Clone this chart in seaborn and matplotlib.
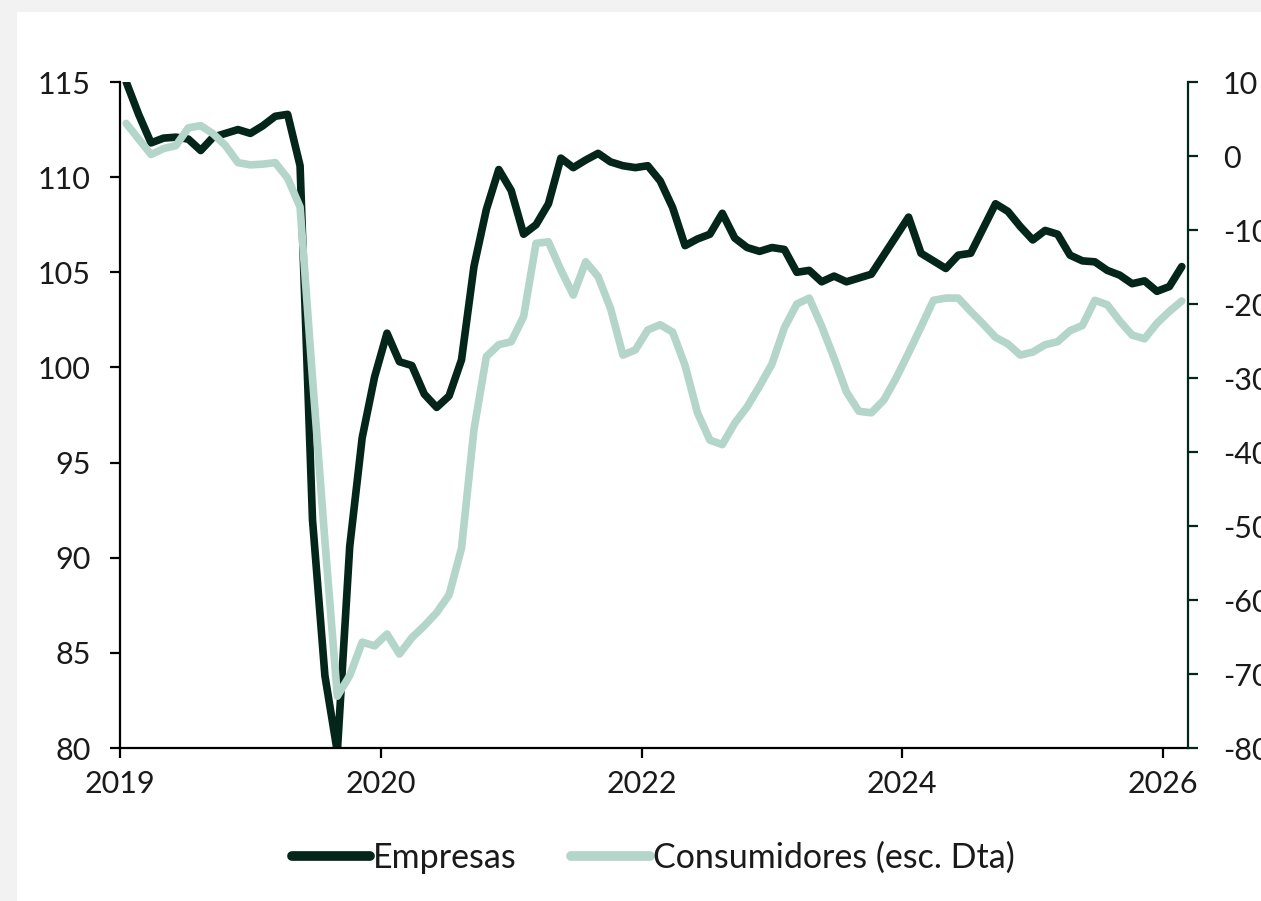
import matplotlib
matplotlib.use("Agg")
import matplotlib.pyplot as plt
import seaborn as sns
import numpy as np
from matplotlib.patches import Rectangle

# Datos mensuales (86 observaciones)
empresas = [115.0, 113.3, 111.8, 112.05, 112.1, 112.0, 111.4, 112.1, 112.3, 112.5,
            112.3, 112.7, 113.2, 113.3, 110.6, 92.0, 83.8, 79.8, 90.6, 96.3,
            99.5, 101.8, 100.3, 100.1, 98.6, 97.9, 98.5, 100.4, 105.3, 108.3,
            110.4, 109.3, 107.0, 107.5, 108.6, 111.0, 110.5, 110.9, 111.25, 110.8,
            110.6, 110.5, 110.6, 109.8, 108.4, 106.4, 106.75, 107.0, 108.1, 106.8,
            106.3, 106.1, 106.3, 106.2, 105.0, 105.1, 104.5, 104.8, 104.5, 104.7,
            104.9, 105.9, 106.9, 107.9, 106.0, 105.6, 105.2, 105.9, 106.0, 107.3,
            108.6, 108.2, 107.4, 106.7, 107.2, 107.0, 105.9, 105.6, 105.55, 105.1,
            104.85, 104.4, 104.55, 104.0, 104.25, 105.3]

consumidores = [4.4, 2.3, 0.2, 1.0, 1.4, 3.8, 4.1, 3.0, 1.4, -0.9,
                -1.2, -1.1, -0.9, -3.0, -6.9, -30.0, -52.0, -73.0, -70.2, -65.7,
                -66.2, -64.6, -67.3, -65.1, -63.5, -61.7, -59.3, -53.0, -37.0, -27.1,
                -25.5, -25.1, -21.7, -11.8, -11.6, -15.4, -18.8, -14.3, -16.3, -20.6,
                -26.9, -26.2, -23.5, -22.8, -23.8, -28.3, -34.7, -38.4, -39.0, -36.1,
                -33.9, -31.1, -28.1, -23.2, -20.0, -19.2, -23.0, -27.3, -31.9, -34.5,
                -34.7, -33.0, -30.0, -26.6, -23.1, -19.5, -19.2, -19.2, -21.0, -22.7,
                -24.5, -25.4, -26.9, -26.5, -25.5, -25.1, -23.6, -22.9, -19.5, -20.1,
                -22.3, -24.2, -24.7, -22.6, -21.0, -19.6]

tick_pos = [0, 21, 42, 63, 84]
tick_labels = ["2019", "2020", "2022", "2024", "2026"]

color_emp = "#04251a"
color_con = "#b4d5c9"

sns.set_theme(style="white")
plt.rcParams["font.family"] = ["Lato", "DejaVu Sans"]
plt.rcParams["axes.unicode_minus"] = False

fig = plt.figure(figsize=(12.61, 9.01), dpi=100)
fig.patch.set_facecolor("#f2f2f2")
fig.patches.append(Rectangle((17 / 1261, 0), 1, 1 - 12 / 901, transform=fig.transFigure,
                             facecolor="white", edgecolor="none", zorder=-10))

ax = fig.add_axes([120 / 1261, 1 - 748 / 901, (1188 - 120) / 1261, (748 - 82) / 901])
ax.set_facecolor("none")
ax2 = ax.twinx()

x = np.arange(len(empresas)) + 0.5

sns.lineplot(x=x, y=empresas, ax=ax, color=color_emp, linewidth=5.5, legend=False)
sns.lineplot(x=x, y=consumidores, ax=ax2, color=color_con, linewidth=5.5, legend=False)
for a in (ax, ax2):
    for ln in a.get_lines():
        ln.set_solid_joinstyle("round")
        ln.set_solid_capstyle("round")

ax.set_xlim(0, 86)
ax.set_ylim(80, 115)
ax2.set_ylim(-80, 10)
ax.set_yticks(np.arange(80, 116, 5))
ax2.set_yticks(np.arange(-80, 11, 10))
ax.set_xticks(tick_pos)
ax.set_xticklabels(tick_labels)
ax.set_xlabel("")
ax.set_ylabel("")
ax2.set_ylabel("")

for s in ["top", "right"]:
    ax.spines[s].set_visible(False)
for s in ["top", "left", "bottom"]:
    ax2.spines[s].set_visible(False)
ax.spines["left"].set_color("black")
ax.spines["bottom"].set_color("black")
ax.spines["left"].set_linewidth(1.6)
ax.spines["bottom"].set_linewidth(1.6)
ax2.spines["right"].set_color(color_emp)
ax2.spines["right"].set_linewidth(1.6)

ax.tick_params(axis="y", direction="out", length=7, width=1.6, color="black",
               labelsize=22, pad=14, left=True, labelcolor="#1a1a1a")
ax.tick_params(axis="x", direction="out", length=7, width=1.6, color="black",
               labelsize=22, pad=9, bottom=True, labelcolor="#1a1a1a")
ax2.tick_params(axis="y", direction="out", length=7, width=1.6, color=color_emp,
                labelsize=22, pad=18, right=True, labelcolor="#1a1a1a")

handles = [plt.Line2D([], [], color=color_emp, linewidth=7, solid_capstyle="round"),
           plt.Line2D([], [], color=color_con, linewidth=7, solid_capstyle="round")]
fig.legend(handles, ["Empresas", "Consumidores (esc. Dta)"], loc="center",
           bbox_to_anchor=(0.518, 1 - 858 / 901), ncol=2, frameon=False,
           fontsize=24.5, handlelength=2.3, handletextpad=0.1, columnspacing=1.6,
           labelcolor="#1a1a1a")

fig.savefig("out.png", dpi=100, facecolor=fig.get_facecolor())
